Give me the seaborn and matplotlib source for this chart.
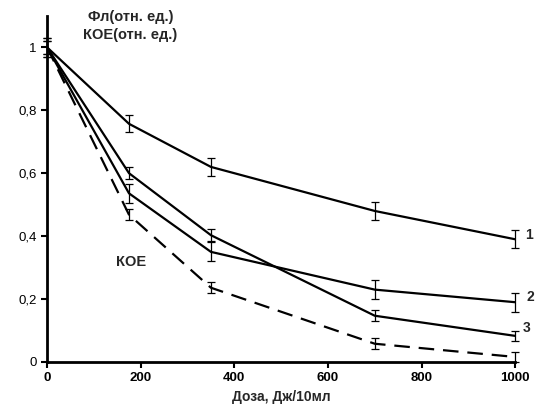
import numpy as np
import pandas as pd
import seaborn as sns
import matplotlib.pyplot as plt

dose = [0, 175, 350, 700, 1000]
fl1 = [1.0, 0.757, 0.62, 0.48, 0.39]
fl2 = [1.0, 0.536, 0.35, 0.23, 0.19]
fl3 = [1.0, 0.60, 0.403, 0.147, 0.083]
koe = [1.0, 0.468, 0.236, 0.058, 0.016]
err1 = [0.03, 0.027, 0.028, 0.028, 0.028]
err2 = [0.03, 0.03, 0.03, 0.03, 0.03]
err3 = [0.02, 0.02, 0.02, 0.017, 0.017]
errk = [0.02, 0.017, 0.017, 0.017, 0.017]

sns.set_style("white")
plt.rcParams["font.family"] = ["Liberation Sans", "DejaVu Sans"]

df = pd.concat([
    pd.DataFrame({"dose": dose, "val": fl1, "err": err1, "s": "1"}),
    pd.DataFrame({"dose": dose, "val": fl2, "err": err2, "s": "2"}),
    pd.DataFrame({"dose": dose, "val": fl3, "err": err3, "s": "3"}),
    pd.DataFrame({"dose": dose, "val": koe, "err": errk, "s": "КОЕ"}),
])

fig = plt.figure(figsize=(5.35, 4.18), dpi=100)
ax = fig.add_axes([0.088, 0.134, 0.875, 0.828])

sns.lineplot(data=df, x="dose", y="val", hue="s", style="s",
             palette=["black"] * 4,
             dashes={"1": "", "2": "", "3": "", "КОЕ": (7, 4)},
             linewidth=1.6, legend=False, ax=ax)

for name, g in df.groupby("s"):
    eb = ax.errorbar(g["dose"], g["val"], yerr=g["err"], fmt="none",
                     ecolor="black", elinewidth=0.9, capsize=3, capthick=0.9)
    for art in eb.get_children():
        art.set_clip_on(False)

ax.set_xlim(0, 1000)
ax.set_ylim(0, 1.1)
ax.set_xticks([0, 200, 400, 600, 800, 1000])
ax.set_yticks([0, 0.2, 0.4, 0.6, 0.8, 1.0])
ax.set_yticklabels(["0", "0,2", "0,4", "0,6", "0,8", "1"])
for lab in ax.get_xticklabels():
    lab.set_fontweight("bold")
ax.tick_params(axis="both", direction="out", length=4, width=1.5,
               labelsize=9.5, colors="black", bottom=True, left=True)
ax.set_xlabel("Доза, Дж/10мл", fontsize=10, fontweight="bold", labelpad=4)
ax.set_ylabel("")
sns.despine(ax=ax)
for sp in ["left", "bottom"]:
    ax.spines[sp].set_linewidth(2)
    ax.spines[sp].set_color("black")

# annotations
ax.text(0.088, 0.997, "Фл(отн. ед.)", transform=ax.transAxes, fontsize=10.5,
        fontweight="bold", ha="left", va="center")
ax.text(0.077, 0.945, "КОЕ(отн. ед.)", transform=ax.transAxes, fontsize=10.5,
        fontweight="bold", ha="left", va="center")
ax.text(180, 0.317, "КОЕ", fontsize=10.5, fontweight="bold", ha="center", va="center")
ax.text(1030, 0.403, "1", fontsize=10, fontweight="bold", ha="center", va="center")
ax.text(1032, 0.206, "2", fontsize=10, fontweight="bold", ha="center", va="center")
ax.text(1024, 0.108, "3", fontsize=10, fontweight="bold", ha="center", va="center")

fig.savefig("out.png", dpi=100)
